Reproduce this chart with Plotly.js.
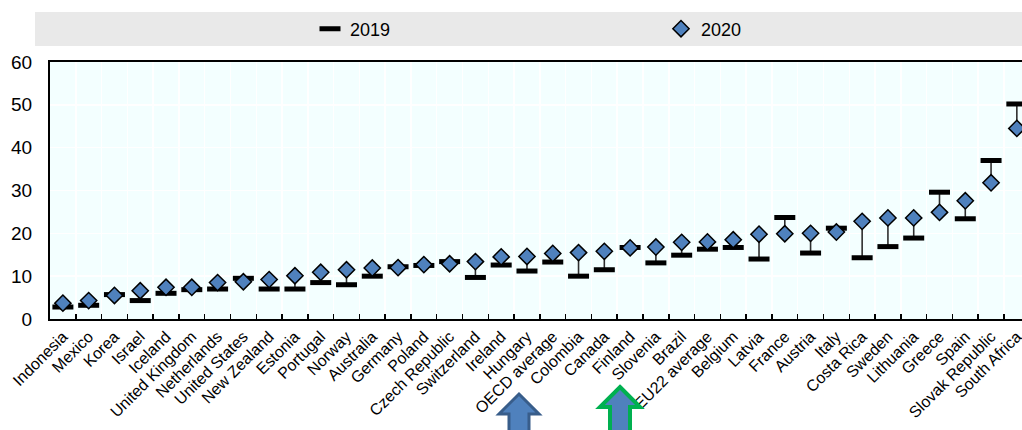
<!DOCTYPE html>
<html>
<head>
<meta charset="utf-8">
<script src="https://cdn.plot.ly/plotly-3.0.1.min.js"></script>
<style>html,body{margin:0;padding:0;background:#fff;}#chart{width:1022px;height:430px;}</style>
</head>
<body>
<div id="chart"></div>
<script>
var categories = ["Indonesia","Mexico","Korea","Israel","Iceland","United Kingdom","Netherlands","United States","New Zealand","Estonia","Portugal","Norway","Australia","Germany","Poland","Czech Republic","Switzerland","Ireland","Hungary","OECD average","Colombia","Canada","Finland","Slovenia","Brazil","EU22 average","Belgium","Latvia","France","Austria","Italy","Costa Rica","Sweden","Lithuania","Greece","Spain","Slovak Republic","South Africa"];
var values2019 = [2.8,3.2,5.7,4.3,6.0,6.85,7.0,9.5,7.0,7.0,8.5,8.0,10.0,12.2,12.5,13.4,9.7,12.6,11.2,13.3,10.0,11.5,16.7,13.1,14.9,16.3,16.7,14.0,23.7,15.4,21.2,14.3,16.9,18.9,29.6,23.4,37.0,50.2];
var values2020 = [3.7,4.3,5.5,6.6,7.4,7.4,8.5,8.7,9.2,10.1,10.9,11.5,11.9,12.0,12.7,12.9,13.4,14.5,14.6,15.3,15.5,15.8,16.6,16.8,17.9,18.0,18.5,19.8,19.9,20.0,20.3,22.8,23.6,23.6,24.9,27.6,31.8,44.5];
var yTicks = [0,10,20,30,40,50,60];
var seriesNames = ["2019","2020"];

var up = values2019.map(function(v,i){ return Math.max(values2020[i]-v,0); });
var down = values2019.map(function(v,i){ return Math.max(v-values2020[i],0); });

var narrow = "Liberation Sans Narrow, Arial Narrow, Liberation Sans, Arial, sans-serif";

var trace2019 = {
  x: categories, y: values2019, name: seriesNames[0], type: "scatter", mode: "markers",
  legend: "legend",
  marker: {symbol: "line-ew", size: 15, color: "#000", line: {color: "#000", width: 5}},
  error_y: {type: "data", symmetric: false, array: up, arrayminus: down, width: 0, thickness: 1.6, color: "#2e2e2e"},
  hoverinfo: "x+y"
};
var trace2020 = {
  x: categories, y: values2020, name: seriesNames[1], type: "scatter", mode: "markers",
  legend: "legend2",
  marker: {symbol: "diamond", size: 12.5, color: "#4F81BD", line: {color: "#000", width: 1.5}},
  hoverinfo: "x+y"
};

// plot geometry for decorations
var L = 50, R = 0, T = 62, B = 111, W = 1022, H = 430;
var PW = W - L - R, PH = H - T - B;
function px(x){ return (x - L) / PW; }
function py(y){ return (H - B - y) / PH; }
function arrowPath(cx, tipY, baseY, headHalf, shaftHalf, bottomY){
  var pts = [[cx, tipY],[cx+headHalf, baseY],[cx+shaftHalf, baseY],[cx+shaftHalf, bottomY],
             [cx-shaftHalf, bottomY],[cx-shaftHalf, baseY],[cx-headHalf, baseY]];
  return "M" + pts.map(function(p){ return px(p[0]).toFixed(5) + "," + py(p[1]).toFixed(5); }).join("L") + "Z";
}

var layout = {
  width: W, height: H,
  margin: {l: L, r: R, t: T, b: B, pad: 0},
  paper_bgcolor: "#ffffff",
  plot_bgcolor: "#F3FFFF",
  font: {family: "Liberation Sans, Arial, sans-serif", size: 14, color: "#000"},
  showlegend: true,
  legend: {orientation: "h", x: px(310), xanchor: "left", y: py(29), yanchor: "middle",
           bgcolor: "rgba(0,0,0,0)", font: {family: narrow, size: 18, color: "#000"}},
  legend2: {orientation: "h", x: px(661), xanchor: "left", y: py(29), yanchor: "middle",
           bgcolor: "rgba(0,0,0,0)", font: {family: narrow, size: 18, color: "#000"}},
  xaxis: {
    type: "category", range: [-0.5, 37.2], tickson: "boundaries",
    ticks: "inside", ticklen: 5, tickwidth: 1.5, tickcolor: "#000",
    showline: true, linecolor: "#000", linewidth: 2, mirror: true,
    showgrid: true, gridcolor: "#ffffff", gridwidth: 1.5,
    tickangle: -45, tickfont: {family: "Liberation Sans, Arial, sans-serif", size: 16, color: "#000"},
    fixedrange: true
  },
  yaxis: {
    range: [0, 60], tickvals: yTicks, ticktext: yTicks.map(String),
    ticks: "", showline: true, linecolor: "#000", linewidth: 2,
    showgrid: true, gridcolor: "#ffffff", gridwidth: 1.5, zeroline: false,
    tickfont: {family: narrow, size: 19, color: "#000"}, ticklabelstandoff: 12,
    fixedrange: true
  },
  shapes: [
    {type: "rect", xref: "paper", yref: "paper", x0: px(35), x1: 1, y0: py(46), y1: py(12),
     fillcolor: "#E9E9E9", line: {width: 0}, layer: "below"},
    {type: "path", xref: "paper", yref: "paper", path: arrowPath(519, 394, 414, 20, 10, 434),
     fillcolor: "#4F81BD", line: {color: "#385D8A", width: 3}, layer: "above"},
    {type: "path", xref: "paper", yref: "paper", path: arrowPath(620, 387, 407, 20, 10, 434),
     fillcolor: "#4F81BD", line: {color: "#00B050", width: 4}, layer: "above"}
  ]
};

Plotly.newPlot("chart", [trace2019, trace2020], layout, {displayModeBar: false, staticPlot: true});
</script>
</body>
</html>
